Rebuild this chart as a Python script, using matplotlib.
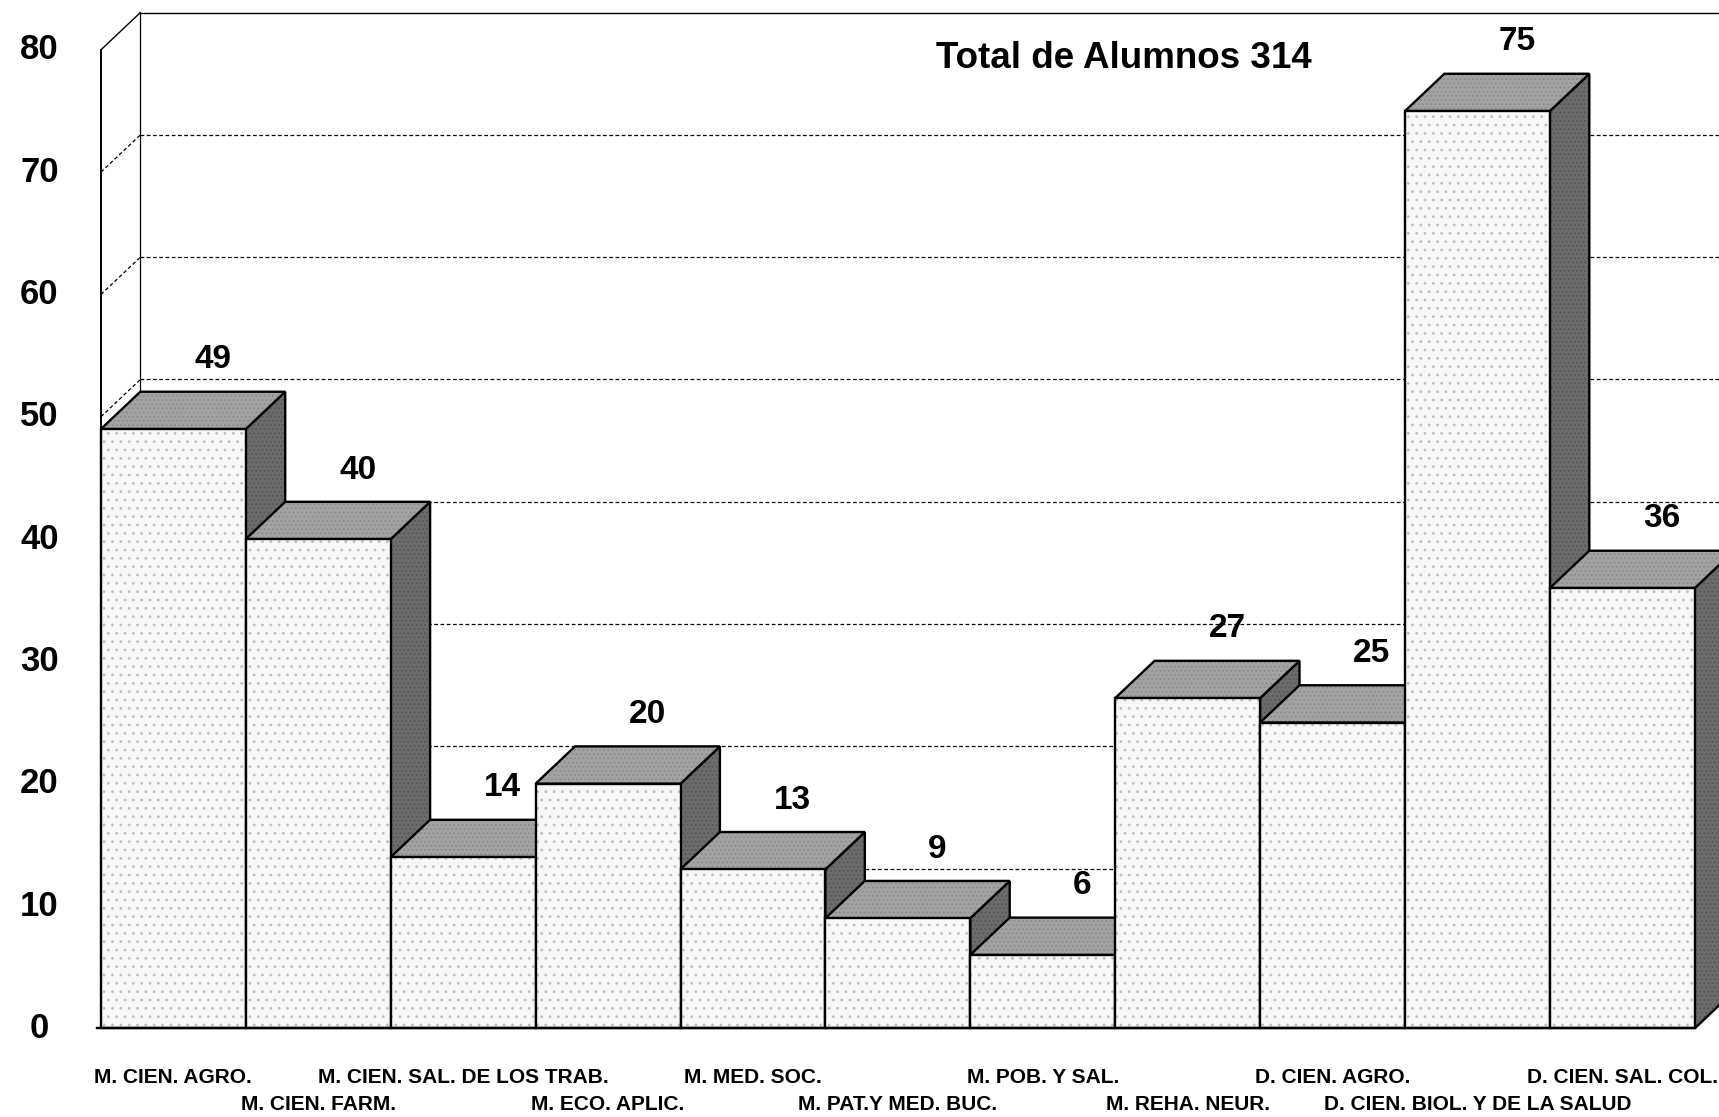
import matplotlib
matplotlib.use("Agg")
import matplotlib.pyplot as plt
from matplotlib.patches import Polygon

plt.rcParams['font.family'] = ['Liberation Sans', 'DejaVu Sans']
plt.rcParams['hatch.linewidth'] = 0.8

# data
categories = ["M. CIEN. AGRO.", "M. CIEN. FARM.", "M. CIEN. SAL. DE LOS TRAB.",
              "M. ECO. APLIC.", "M. MED. SOC.", "M. PAT.Y MED. BUC.",
              "M. POB. Y SAL.", "M. REHA. NEUR.", "D. CIEN. AGRO.",
              "D. CIEN. BIOL. Y DE LA SALUD", "D. CIEN. SAL. COL."]
alumnos = [49, 40, 14, 20, 13, 9, 6, 27, 25, 75, 36]
yticks = [0, 10, 20, 30, 40, 50, 60, 70, 80]
title = "Total de Alumnos 314"

# layout (pixels of the 1719x1117 picture)
W, H = 1719, 1117
left_px, bar_px = 100.9, 144.9
zero_px, unit_px = 1028.3, 12.23
DX = 0.272   # depth offset, in bar widths
DY = 3.05    # depth offset, in value units
YMAX = 80

front_c = '#f7f7f7'
top_c = '#a3a3a3'
side_c = '#6c6c6c'
lw = 1.7

fig = plt.figure(figsize=(W / 100, H / 100), dpi=100)
ax = fig.add_axes([0, 0, 1, 1])
x0, x1 = -left_px / bar_px, (W - left_px) / bar_px
ax.set_xlim(x0, x1)
ax.set_ylim((zero_px - H) / unit_px, zero_px / unit_px)
ax.axis('off')


def face(pts, color, hatch=None, hatch_c='#9a9a9a', z=2):
	if hatch:
		ax.add_patch(Polygon(pts, closed=True, facecolor=color, edgecolor=hatch_c,
		                     hatch=hatch, lw=0, zorder=z))
		ax.add_patch(Polygon(pts, closed=True, fill=False, edgecolor='black',
		                     lw=lw, zorder=z, joinstyle='miter'))
	else:
		ax.add_patch(Polygon(pts, closed=True, facecolor=color, edgecolor='black',
		                     lw=lw, zorder=z, joinstyle='miter'))


# walls
ax.plot([0, 0], [0, YMAX], color='black', lw=1.4, zorder=1)
ax.plot([DX, DX], [DY, YMAX + DY], color='black', lw=0.9, zorder=1)
ax.plot([0, DX], [YMAX, YMAX + DY], color='black', lw=1.0, zorder=1)
ax.plot([DX, x1], [YMAX + DY, YMAX + DY], color='black', lw=1.0, zorder=1)
for t in yticks[1:-1]:
	ax.plot([DX, x1], [t + DY, t + DY], color='black', lw=0.9,
	        ls=(0, (3, 2)), zorder=1)
	ax.plot([0, DX], [t, t + DY], color='black', lw=0.9, ls=(0, (3, 2)), zorder=1)

for t in yticks:
	ax.text(-0.424, t, str(t), ha='center', va='center', fontsize=25,
	        fontweight='bold')

# bars, left to right so each one hides the side of the one before
n = len(alumnos)
for i, v in enumerate(alumnos):
	z = 2 + i
	side = [(i + 1, 0), (i + 1 + DX, DY), (i + 1 + DX, v + DY), (i + 1, v)]
	top = [(i, v), (i + 1, v), (i + 1 + DX, v + DY), (i + DX, v + DY)]
	front = [(i, 0), (i + 1, 0), (i + 1, v), (i, v)]
	face(side, side_c, hatch='....', hatch_c='#555555', z=z)
	face(top, top_c, hatch='....', hatch_c='#8a8a8a', z=z)
	face(front, front_c, hatch='..', hatch_c='#bdbdbd', z=z)
	ax.text(i + 0.5 + DX, v + DY + 2.6, str(v), ha='center', va='center',
	        fontsize=24, fontweight='bold', zorder=20)

ax.plot([-0.03, n], [0, 0], color='black', lw=lw, zorder=20)

for i, name in enumerate(categories):
	y = -4.03 if i % 2 == 0 else -6.19
	ax.text(i + 0.5, y, name, ha='center', va='center', fontsize=15,
	        fontweight='bold')

ax.text(7.06, 79.3, title, ha='center', va='center', fontsize=26.5,
        fontweight='bold')

fig.savefig('out.png', dpi=100)
